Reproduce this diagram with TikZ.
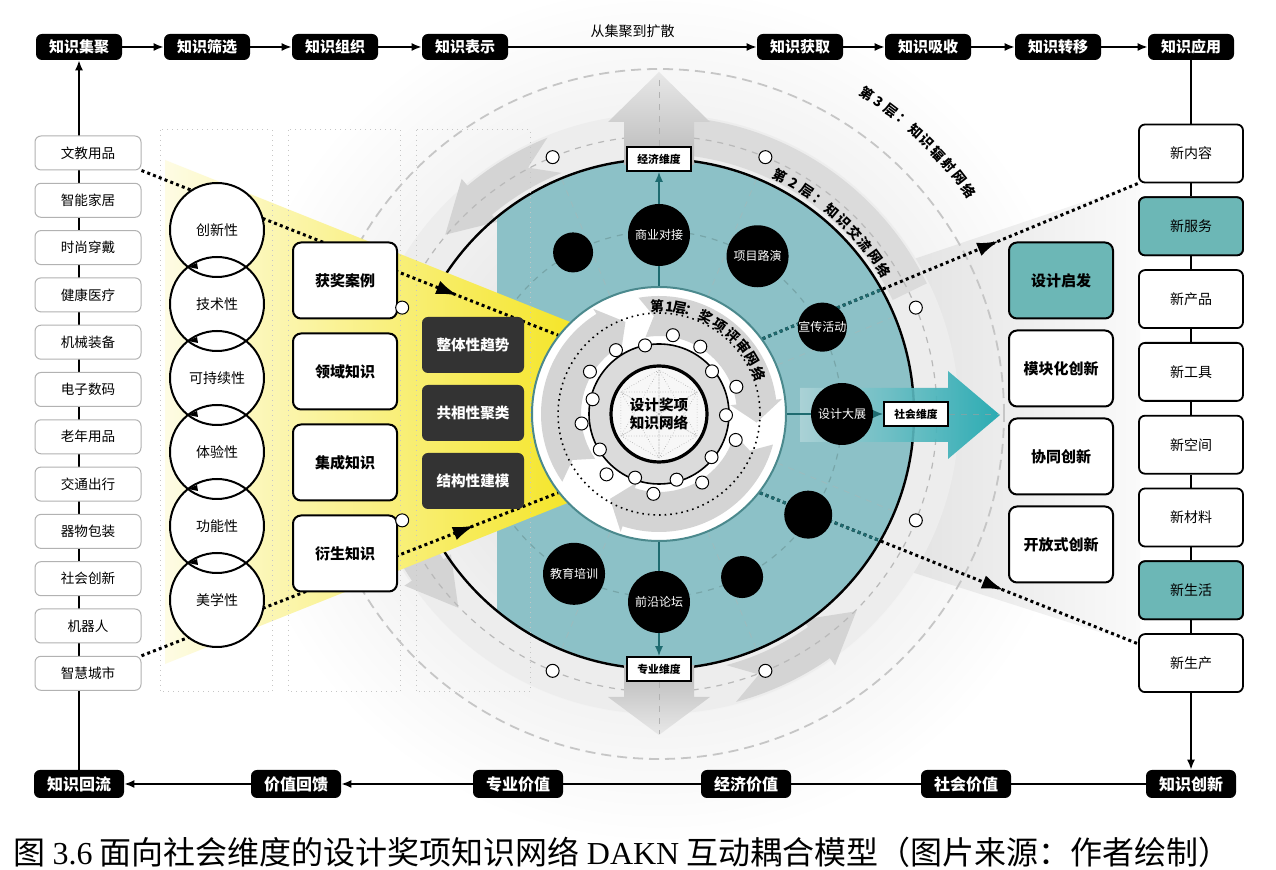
\documentclass[tikz,border=0pt]{standalone}
\usepackage{fontspec}
\setmainfont{Noto Sans CJK SC}
\newfontfamily\capserif{Liberation Serif}
\usetikzlibrary{arrows.meta,decorations.markings}
\pgfdeclarelayer{bg}
\pgfdeclarelayer{mid}
\pgfsetlayers{bg,mid,main}

\definecolor{tealfill}{HTML}{8CC1C7}
\definecolor{tealbox}{HTML}{6CB7B6}
\definecolor{tealdark}{HTML}{1E6B70}
\definecolor{tealarrow}{HTML}{17A5AD}
\definecolor{funnel}{HTML}{F4E41C}
\definecolor{darkbox}{HTML}{333333}

\tikzset{
  hubframe/.style={shift={(659,414)}, y=0.5pt},
  stage/.style={fill=black, rounded corners=3pt, text=white, inner sep=1pt,
    minimum width=43pt, minimum height=13pt, font=\bfseries\fontsize{7.5}{9}\selectfont},
  payoff/.style={stage, minimum width=45pt, minimum height=14pt, font=\bfseries\fontsize{8}{9}\selectfont},
  field/.style={draw=gray!60, fill=white, rounded corners=3pt, line width=0.5pt,
    minimum width=53pt, minimum height=17pt, inner sep=1pt, font=\fontsize{6.8}{8}\selectfont},
  trait/.style={circle, draw, line width=1pt, minimum size=47pt, inner sep=0pt, font=\fontsize{7}{8}\selectfont},
  source/.style={draw, line width=1pt, fill=white, rounded corners=4pt,
    minimum width=52pt, minimum height=38pt, font=\bfseries\fontsize{7.5}{9}\selectfont},
  method/.style={fill=darkbox, rounded corners=3pt, text=white,
    minimum width=51pt, minimum height=28pt, font=\bfseries\fontsize{7.3}{9}\selectfont},
  outcome/.style={draw, line width=0.9pt, fill=white, rounded corners=3pt,
    minimum width=52pt, minimum height=29pt, font=\fontsize{7}{8}\selectfont},
  hub/.style={circle, fill=black, text=white, inner sep=0pt, font=\fontsize{6}{7}\selectfont},
  dim/.style={draw, line width=0.8pt, fill=white, minimum width=32pt, minimum height=12pt,
    inner sep=1pt, font=\bfseries\fontsize{5.4}{6}\selectfont},
  knot/.style={circle, draw, line width=0.5pt, fill=white, minimum size=6.5pt, inner sep=0pt},
  layertext/.style={inner sep=0pt, font=\bfseries\fontsize{6.8}{7}\selectfont},
  dotline/.style={line width=1.5pt, dash pattern=on 1.5pt off 1.6pt},
  midarrow/.style={postaction={decorate}, decoration={markings,
    mark=at position #1 with {\arrow{Latex[length=11pt,width=7pt]}}}},
  lane/.style={draw=gray!45, dotted, line width=0.5pt},
  flow/.style={->, line width=0.8pt},
}

\begin{document}
\begin{tikzpicture}[x=0.5pt, y=-0.5pt, >={Latex[length=5pt,width=4pt]}]
  \useasboundingbox (0,0) rectangle (1276,870);

  % background: rings, teal field, funnel, axis arrows
  \begin{pgfonlayer}{bg}
    \fill[white] (0,0) rectangle (1276,870);
    \begin{scope}[hubframe]
      \shade[inner color=gray!30, outer color=white] (0,0) circle (430);
    \end{scope}
    \shade[left color=gray!22, right color=gray!4] (905,262) -- (1140,183) -- (1140,645) -- (905,570) -- cycle;
    \begin{scope}[hubframe]
      \draw[gray!45, line width=0.9pt, dash pattern=on 5pt off 3pt] (0,0) circle (345);
      \fill[gray!14, even odd rule] (0,0) circle (300) (0,0) circle (255);
      \fill[gray!28] (26:298) arc[start angle=26, end angle=84, radius=298]
        -- (84:260) arc[start angle=84, end angle=26, radius=260] -- cycle;
      \foreach \t/\hb/\tp in {112/130/140, 195/214/224, 285/305/315}
        \fill[gray!34] (\t:298) arc[start angle=\t, end angle=\hb, radius=298] -- (\hb:307) -- (\tp:279)
          -- (\hb:251) -- (\hb:260) arc[start angle=\hb, end angle=\t, radius=260] -- ({\t+6}:279) -- cycle;
      \draw[gray!55, dashed, line width=0.6pt] (0,0) circle (278);
      \begin{scope}
        \clip (0,0) circle (254);
        \fill[tealfill] (-162,-260) rectangle (260,260);
      \end{scope}
      \draw[tealdark!60, dashed, line width=0.6pt] (0,0) circle (183);
      \foreach \a in {22.5,67.5,...,337.5}
        \draw[tealdark!45, dashed, line width=0.5pt] (\a:128) -- (\a:254);
      \draw[line width=1.2pt] (0,0) circle (255);
    \end{scope}
    \shade[left color=funnel!12, right color=funnel] (165,160) -- (600,334) -- (600,490) -- (165,664) -- cycle;
    \shade[top color=gray!18, bottom color=gray!55] (624,165) -- (624,122) -- (608,122) -- (659,72)
      -- (710,122) -- (694,122) -- (694,165) -- cycle;
    \shade[top color=gray!55, bottom color=gray!18] (624,665) -- (624,697) -- (608,697) -- (659,735)
      -- (710,697) -- (694,697) -- (694,665) -- cycle;
    \shade[left color=tealfill!70, right color=tealarrow, opacity=0.9] (800,388) -- (948,388) -- (948,371)
      -- (1000,415) -- (948,459) -- (948,442) -- (800,442) -- cycle;
  \end{pgfonlayer}

  % process bars
  \foreach \x/\t [count=\i] in {79/知识集聚,207/知识筛选,335/知识组织,465/知识表示,800/知识获取,928/知识吸收,1058/知识转移,1191/知识应用}
    \node[stage] (g\i) at (\x,47) {\t};
  \foreach \x/\t [count=\i] in {79/知识回流,296/价值回馈,518/专业价值,746/经济价值,966/社会价值,1191/知识创新}
    \node[payoff] (b\i) at (\x,784) {\t};

  \draw[lane] (160,130) rectangle (272,692);
  \draw[lane] (288,130) rectangle (400,692);
  \draw[lane] (416,130) rectangle (530,692);
  \draw[flow] (b1) -- (g1);

  % award network
  \begin{scope}[hubframe]
    \node[circle, minimum size=127pt, inner sep=0pt, fill=white, draw=tealdark!80, line width=1pt] (ring1) at (0,0) {};
    \foreach \t/\hb/\tp in {215/122/110, 100/7/-5, -15/-108/-120}
      \fill[gray!34] (\t:118) arc[start angle=\t, end angle=\hb, radius=118] -- (\hb:124) -- (\tp:98)
        -- (\hb:72) -- (\hb:78) arc[start angle=\hb, end angle=\t, radius=78] -- ({\t-7}:98) -- cycle;
    \draw[dotted, line width=0.8pt] (0,0) circle (101);
    \filldraw[fill=gray!28, line width=0.8pt] (0,0) circle (70);
    \fill[gray!6] (0,0) circle (48);
    \foreach \a in {90,150,...,390}
      \draw[gray!70, densely dotted, line width=0.3pt] (\a:44) -- ({\a+120}:44) (\a:44) -- ({\a+60}:44) (\a:44) -- ({\a+180}:44);
    \node[circle, draw, line width=1.6pt, minimum size=48pt, inner sep=0pt, align=center,
      font=\bfseries\fontsize{7.3}{8.8}\selectfont] (core) at (0,0) {设计奖项\\知识网络};
    \foreach \a/\r [count=\i] in {80/80,58.5/79,38.8/68,19.4/82,-1/67,-18.7/81,-39.4/68,-57.8/81,-75/68,
        -94/80,-110.6/68,-131/80,-149/69,-173/78,167.5/68,148.5/81,124/77,101.5/70}
      \node[knot] (k\i) at (\a:\r) {};

    \node[dim] (econ) at (90:255) {经济维度};
    \node[dim] (social) at (0:257) {社会维度};
    \node[dim] (prof) at (-90:255) {专业维度};
    \coordinate (econtip) at (90:335);
    \coordinate (socialtip) at (0:340);
    \coordinate (proftip) at (-90:320);
    \draw[tealdark, line width=0.8pt, ->] (ring1) -- (econ);
    \draw[tealdark, line width=0.8pt, ->] (ring1) -- (social);
    \draw[tealdark, line width=0.8pt, ->] (ring1) -- (prof);
    \draw[gray!60, dashed, line width=0.4pt] (econ) -- (econtip);
    \draw[tealdark!60, dashed, line width=0.4pt] (social) -- (socialtip);
    \draw[gray!60, dashed, line width=0.4pt] (prof) -- (proftip);

    \node[hub, minimum size=31pt] (biz) at (90:179) {商业对接};
    \node[hub, minimum size=31pt] (pitch) at (58:186) {项目路演};
    \node[hub, minimum size=20pt] (dotA) at (118:183) {};
    \node[hub, minimum size=24pt] (promo) at (28:185) {宣传活动};
    \node[hub, minimum size=31pt] (expo) at (0:183) {设计大展};
    \node[hub, minimum size=24pt] (dotB) at (-34:180) {};
    \node[hub, minimum size=21pt] (dotC) at (-63:183) {};
    \node[hub, minimum size=31pt] (forum) at (-90:188) {前沿论坛};
    \node[hub, minimum size=31pt] (edu) at (-118:181) {教育培训};

    \foreach \ch/\a [count=\i] in {第/91,1/84.5,层/79,：/72.5,奖/64,项/55.5,评/47,审/38.5,网/30.5,络/22}
      \node[layertext, rotate={\a-90}] (l1-\i) at (\a:108) {\ch};
    \foreach \ch/\a [count=\i] in {第/63,2/59.7,层/56.4,：/53,知/49.6,识/46.2,交/42.8,流/39.4,网/36,络/32.6}
      \node[layertext, rotate={\a-90}] (l2-\i) at (\a:267) {\ch};
    \foreach \ch/\a [count=\i] in {第/57,3/54.8,层/52.6,：/50.2,知/47.8,识/45.4,辐/43,射/40.6,网/38.2,络/35.8}
      \node[layertext, rotate={\a-90}] (l3-\i) at (\a:382) {\ch};
  \end{scope}

  % industry fields
  \foreach \t [count=\i] in {文教用品,智能家居,时尚穿戴,健康医疗,机械装备,电子数码,老年用品,交通出行,器物包装,社会创新,机器人,智慧城市}
    \node[field] (f\i) at (88,{153+47.3*(\i-1)}) {\t};

  % design qualities
  \foreach \i in {1,...,6}
    \fill[white] (217,{230+74*(\i-1)}) circle (47);
  \foreach \t [count=\i] in {创新性,技术性,可持续性,体验性,功能性,美学性}
    \node[trait] (t\i) at (217,{230+74*(\i-1)}) {\t};
  \foreach \i in {1,...,5}
    \fill (188,{267+74*(\i-1)}) -- ++(9,-4) -- ++(1,6) -- cycle;

  % knowledge sources and methods
  \foreach \t [count=\i] in {获奖案例,领域知识,集成知识,衍生知识}
    \node[source] (s\i) at (345,{280.5+91*(\i-1)}) {\t};
  \foreach \t [count=\i] in {整体性趋势,共相性聚类,结构性建模}
    \node[method] (m\i) at (473,{345+68*(\i-1)}) {\t};

  % innovation modes and outcomes
  \node[source, fill=tealbox] (d1) at (1061,280.5) {设计启发};
  \foreach \t [count=\i from 2] in {模块化创新,协同创新,开放式创新}
    \node[source] (d\i) at (1061,{280.5+88*(\i-1)}) {\t};
  \foreach \t [count=\i] in {新内容,新服务,新产品,新工具,新空间,新材料,新生活,新生产}
    \node[outcome] (o\i) at (1191,{153.5+72.8*(\i-1)}) {\t};
  \node[outcome, fill=tealbox] (o2c) at (o2) {新服务};
  \node[outcome, fill=tealbox] (o7c) at (o7) {新生活};

  \draw[line width=0.8pt] (g8) -- (o1);
  \foreach \i/\j in {1/2,2/3,3/4,4/5,5/6,6/7,7/8}
    \draw[line width=0.8pt] (o\i) -- (o\j);
  \draw[flow] (o8) -- (b6);

  % layer-2 knots
  \begin{scope}[hubframe]
    \foreach \a [count=\i] in {22.5,67.5,...,337.5}
      \node[knot] (n\i) at (\a:278) {};
  \end{scope}

  % top and bottom flows
  \foreach \i/\j in {1/2,2/3,3/4,5/6,6/7,7/8}
    \draw[flow] (g\i) -- (g\j);
  \draw[flow] (g4) -- node[above=1pt, font=\fontsize{7}{8}\selectfont] (spread) {从集聚到扩散} (g5);
  \foreach \i/\j in {6/5,5/4,4/3}
    \draw[line width=0.8pt] (b\i) -- (b\j);
  \draw[flow] (b3) -- (b2);
  \draw[flow] (b2) -- (b1);

  \node[anchor=west, inner sep=0pt, font=\fontsize{16}{18}\selectfont] (caption) at (13,852)
    {图 {\capserif 3.6} 面向社会维度的设计奖项知识网络 {\capserif DAKN} 互动耦合模型（图片来源：作者绘制）};

  % dotted coupling lines
  \begin{pgfonlayer}{mid}
    \draw[dotline, midarrow=0.76] (f1.south east) -- (ring1.142);
    \draw[dotline, midarrow=0.8] (f12.north east) -- (ring1.218);
    \draw[dotline, midarrow=0.63] (ring1.36) -- (o1.south west);
    \draw[dotline, midarrow=0.645] (ring1.-38) -- (o8.160);
    \begin{scope}[hubframe]
      \clip (0,0) circle (254);
      \draw[dotline, tealdark] (ring1.36) -- (o1.south west);
      \draw[dotline, tealdark] (ring1.-38) -- (o8.160);
    \end{scope}
  \end{pgfonlayer}
\end{tikzpicture}
\end{document}
